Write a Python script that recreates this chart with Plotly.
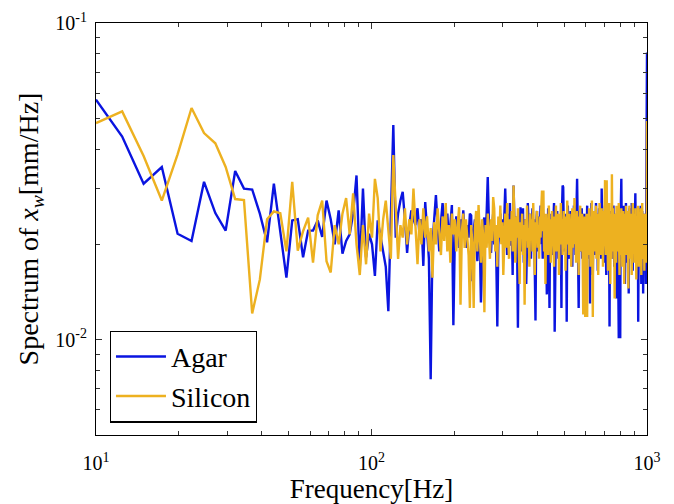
import numpy as np
import plotly.graph_objects as go

# Spectrum values in units of 1e-4 mm/Hz, frequency bins evenly spaced 10..1000 Hz
agar = [
    573,438,311,351,216,205,315,251,221,341,300,298,250,203,311,220,157,238,240,182,
    221,221,238,211,275,240,200,256,187,205,215,250,330,169,300,182,216,200,159,238,
    210,191,170,123,250,476,210,250,275,293,240,188,230,256,240,230,260,215,240,171,
    272,215,180,75,200,240,286,230,190,235,270,240,220,250,205,230,266,111,210,245,
    225,195,240,215,256,220,195,230,210,250,247,153,220,240,205,177,230,210,131,200,
    235,243,210,250,326,240,205,188,225,250,200,230,180,110,200,226,250,215,240,195,
    260,300,230,185,250,215,270,198,240,160,307,220,180,245,205,109,230,210,262,190,
    225,260,175,200,240,150,215,270,230,195,250,180,220,260,205,240,170,115,230,255,
    210,190,245,220,265,200,235,180,250,215,196,240,210,139,225,260,190,126,230,205,
    250,215,185,235,270,106,220,240,200,255,215,180,245,210,190,230,126,260,307,303,
    220,190,250,205,235,114,225,265,200,180,240,215,255,195,230,170,245,210,265,200,
    220,185,250,230,322,240,195,126,215,255,190,230,205,260,180,235,215,150,250,200,
    230,175,245,210,265,195,225,180,240,215,130,250,205,270,190,235,160,220,255,200,
    240,185,225,270,210,195,250,165,230,215,260,190,240,205,225,180,300,235,200,250,
    215,175,245,210,265,195,230,160,250,205,240,185,225,260,200,110,235,215,190,255,
    220,200,245,180,235,265,205,170,240,215,250,190,225,135,245,210,260,195,230,101,
    215,250,190,101,240,275,322,230,200,255,180,235,210,265,195,225,150,245,215,270,
    200,230,175,250,215,190,245,140,225,260,205,235,185,250,220,195,270,210,240,165,
    230,255,200,225,185,245,210,290,230,195,240,215,160,250,205,235,114,220,260,200,
    245,180,230,210,265,195,150,240,220,255,190,235,140,215,250,200,230,170,245,210,
    200,150,230,160,210,807,
]

silicon = [
    483,526,380,275,385,539,449,417,351,278,276,121,155,240,254,251,190,315,191,220,
    243,175,247,275,177,163,230,200,250,280,215,290,200,160,230,173,250,210,322,280,
    190,240,275,220,180,383,250,180,230,210,260,200,240,215,300,230,173,240,200,260,
    210,245,190,225,157,235,200,260,215,185,245,205,270,190,230,175,250,215,240,190,
    230,262,129,220,250,195,240,210,185,126,230,200,126,225,255,190,266,215,175,240,
    210,122,230,195,250,215,180,240,205,282,260,190,230,170,245,210,265,200,235,160,
    225,250,195,270,215,180,240,205,255,190,307,230,175,245,210,260,195,150,235,220,
    250,185,230,129,240,205,265,195,225,170,250,215,240,190,270,205,160,235,215,255,
    195,230,180,245,210,260,296,220,296,190,235,150,250,205,225,185,265,210,240,175,
    230,255,200,220,170,245,210,265,190,235,215,250,160,230,200,270,205,240,185,225,
    255,195,230,165,245,210,275,200,230,185,250,215,240,170,225,260,195,235,210,280,
    200,240,175,230,255,195,220,160,245,210,265,190,235,205,250,180,120,230,200,245,
    118,225,195,250,118,215,240,185,260,205,230,170,245,210,275,195,118,235,220,255,
    190,240,205,265,180,230,215,250,160,235,200,270,210,245,185,225,260,195,240,170,
    230,255,200,240,319,215,185,250,319,205,235,165,245,210,270,195,230,150,250,215,
    180,333,225,200,260,190,240,215,135,250,205,235,175,265,210,245,190,230,200,270,
    215,160,245,200,235,185,260,210,240,170,230,255,195,225,150,250,205,240,185,265,
    210,235,190,255,200,240,145,230,215,265,195,225,180,250,210,240,160,235,205,270,
    195,230,215,250,175,240,205,260,190,225,155,245,210,235,185,265,200,230,170,250,
    215,240,190,260,205,230,160,245,210,270,195,235,180,250,215,225,165,240,205,230,
    190,250,175,220,200,490,
]

f_start, f_end = 10, 1000
x_ticks = [10, 100, 1000]
x_ticktext = ["10<sup>1</sup>", "10<sup>2</sup>", "10<sup>3</sup>"]
y_ticks = [0.01, 0.1]
y_ticktext = ["10<sup>-2</sup>", "10<sup>-1</sup>"]

freq_a = np.linspace(f_start, f_end, len(agar))
freq_s = np.linspace(f_start, f_end, len(silicon))
val_a = np.array(agar) * 1e-4
val_s = np.array(silicon) * 1e-4

FONT = "Liberation Serif"

fig = go.Figure()
fig.add_trace(go.Scatter(x=freq_a, y=val_a, mode="lines", name="Agar",
                         line=dict(color="#0A14E0", width=2.4)))
fig.add_trace(go.Scatter(x=freq_s, y=val_s, mode="lines", name="Silicon",
                         line=dict(color="#EDB120", width=2.4)))

x_minor = [m * 10 ** e for e in (1, 2) for m in range(2, 10)]
y_minor = [m * 10 ** e for e in (-3, -2) for m in range(2, 10) if m * 10 ** e >= 0.005]

axis_common = dict(showline=True, linecolor="black", linewidth=1.2, mirror="allticks",
                   ticks="inside", ticklen=6, tickcolor="#333", showgrid=False, zeroline=False,
                   automargin=False, tickfont=dict(size=20))

fig.update_xaxes(type="log", range=[np.log10(f_start), np.log10(f_end)],
                 tickvals=x_ticks, ticktext=x_ticktext, ticklabelstandoff=10,
                 minor=dict(tickvals=x_minor, ticks="inside", ticklen=4, tickcolor="#333", showgrid=False),
                 title=dict(text="Frequency[Hz]", font=dict(size=27), standoff=6),
                 **axis_common)
fig.update_yaxes(type="log", range=[np.log10(0.005), -1],
                 tickvals=y_ticks, ticktext=y_ticktext, ticklabelstandoff=4,
                 minor=dict(tickvals=y_minor, ticks="inside", ticklen=4, tickcolor="#333", showgrid=False),
                 title=dict(text="Spectrum of <i>x<sub>w</sub></i>[mm/Hz]",
                            font=dict(size=28), standoff=8),
                 **axis_common)

fig.update_layout(
    width=674, height=504,
    margin=dict(l=96, r=27, t=23, b=69),
    paper_bgcolor="white", plot_bgcolor="white",
    font=dict(family=FONT, color="black"),
    showlegend=True,
    legend=dict(x=0.025, y=0.03, xanchor="left", yanchor="bottom",
                bordercolor="black", borderwidth=1.2, bgcolor="white",
                font=dict(size=28),
                tracegroupgap=0, itemwidth=50),
)

fig.write_html("out.html")
